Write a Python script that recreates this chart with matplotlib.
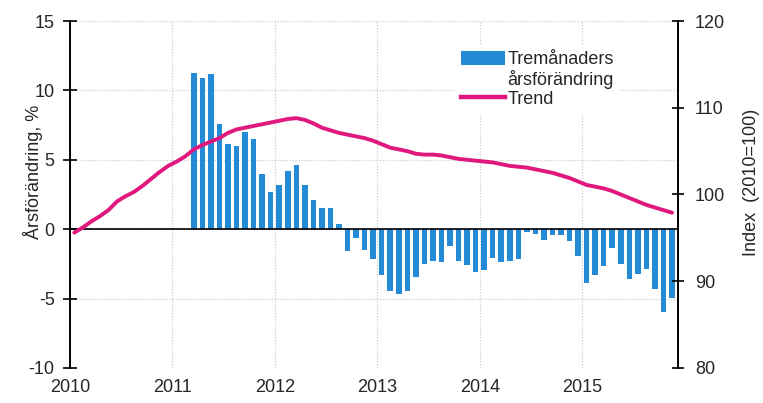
import numpy as np
import matplotlib
matplotlib.use("Agg")
from matplotlib import pyplot as plt
from matplotlib.patches import Patch
from matplotlib.lines import Line2D
import matplotlib.transforms as mtransforms

plt.rcParams["font.family"] = ["Liberation Sans", "DejaVu Sans"]
plt.rcParams["axes.unicode_minus"] = False

# monthly index: 0 = Jan 2010
years = [2010, 2011, 2012, 2013, 2014, 2015]

# three-month annual change, %, Mar 2011 .. Nov 2015
bar_start = 14
change = [
    11.25, 10.9, 11.15, 7.55, 6.15, 6.03, 6.97, 6.5, 3.97, 2.7,
    3.15, 4.2, 4.66, 3.15, 2.11, 1.54, 1.54, 0.38, -1.59, -0.67,
    -1.49, -2.16, -3.3, -4.47, -4.69, -4.47, -3.41, -2.5, -2.26, -2.38,
    -1.22, -2.26, -2.6, -3.08, -2.96, -2.04, -2.38, -2.26, -2.16, -0.17,
    -0.31, -0.77, -0.42, -0.42, -0.88, -1.92, -3.89, -3.32, -2.64, -1.35,
    -2.52, -3.56, -3.2, -2.84, -4.33, -5.96, -4.97,
]

# trend, index 2010=100, Jan 2010 .. Nov 2015
trend = [
    95.6, 96.2, 96.9, 97.5, 98.2, 99.2, 99.8, 100.3, 101.0, 101.8,
    102.6, 103.3, 103.8, 104.4, 105.2, 105.7, 106.1, 106.5, 107.1, 107.5,
    107.7, 107.9, 108.1, 108.3, 108.5, 108.7, 108.8, 108.6, 108.2, 107.7,
    107.4, 107.1, 106.9, 106.7, 106.5, 106.2, 105.8, 105.4, 105.2, 105.0,
    104.7, 104.6, 104.6, 104.5, 104.3, 104.1, 104.0, 103.9, 103.8, 103.7,
    103.5, 103.3, 103.2, 103.1, 102.9, 102.7, 102.5, 102.2, 101.9, 101.5,
    101.1, 100.9, 100.7, 100.4, 100.0, 99.6, 99.2, 98.8, 98.5, 98.2,
    97.9,
]

bar_color = "#238ad5"
line_color = "#e0187e"
grid_color = "#d4d4d4"
text_color = "#262626"
fs = 13

W, H = 763, 403
fig = plt.figure(figsize=(W / 100, H / 100), dpi=100)
ax = fig.add_axes([70 / W, 1 - 368 / H, (678 - 70) / W, (368 - 21) / H])
ax2 = ax.twinx()

x_bar = np.arange(bar_start, bar_start + len(change)) + 0.5
x_trend = np.arange(len(trend)) + 0.5

ax.bar(x_bar, change, width=0.65, color=bar_color, zorder=2)
ax.axhline(0, color="black", linewidth=1.2, zorder=3)
ax2.plot(x_trend, trend, color=line_color, linewidth=2.8,
         solid_capstyle="round", zorder=4)

ax.set_xlim(0, 71.2)
ax.set_ylim(-10, 15)
ax2.set_ylim(80, 120)
ax.set_yticks(np.arange(-10, 16, 5))
ax2.set_yticks(np.arange(80, 121, 10))

ax.set_xticks([(y - 2010) * 12 for y in years])
ax.set_xticklabels([str(y) for y in years])
offset = mtransforms.ScaledTranslation(5 / 100, 0, fig.dpi_scale_trans)
for lab in ax.get_xticklabels():
    lab.set_transform(lab.get_transform() + offset)

ax.grid(True, color=grid_color, linestyle=(0, (1.2, 1.2)), linewidth=0.9,
        zorder=0)
ax.set_axisbelow(True)

for a in (ax, ax2):
    a.spines["top"].set_visible(False)
    a.spines["bottom"].set_visible(False)
    a.spines["left"].set_linewidth(1.2)
    a.spines["right"].set_linewidth(1.2)

ax.tick_params(axis="x", length=0, pad=8, labelsize=fs, labelcolor=text_color)
ax.tick_params(axis="y", direction="inout", length=10, width=1.2,
               pad=6, labelsize=fs, labelcolor=text_color)
ax2.tick_params(axis="y", direction="inout", length=8.5, width=1.2,
                pad=8, labelsize=fs, labelcolor=text_color)

fig.text(33 / W, 1 - 172 / H, "Årsförändring, %", rotation=90,
         ha="center", va="center", fontsize=fs, color=text_color)
fig.text(751 / W, 1 - 182 / H, "Index  (2010=100)", rotation=90,
         ha="center", va="center", fontsize=fs, color=text_color)

handles = [
    Patch(facecolor=bar_color, edgecolor="none"),
    Patch(facecolor="none", edgecolor="none"),
    Line2D([], [], color=line_color, linewidth=3.2),
]
labels = ["Tremånaders", "årsförändring", "Trend"]
leg = ax2.legend(handles, labels, loc="upper left",
                 bbox_to_anchor=(455 / W, 1 - 45 / H),
                 bbox_transform=fig.transFigure,
                 fontsize=fs, frameon=True, facecolor="white",
                 edgecolor="none", framealpha=1, fancybox=False,
                 handlelength=2.4, handleheight=0.75, handletextpad=0.15,
                 labelspacing=0.1, borderpad=0.35, borderaxespad=0)
for t in leg.get_texts():
    t.set_color(text_color)

fig.savefig("out.png", dpi=100)
